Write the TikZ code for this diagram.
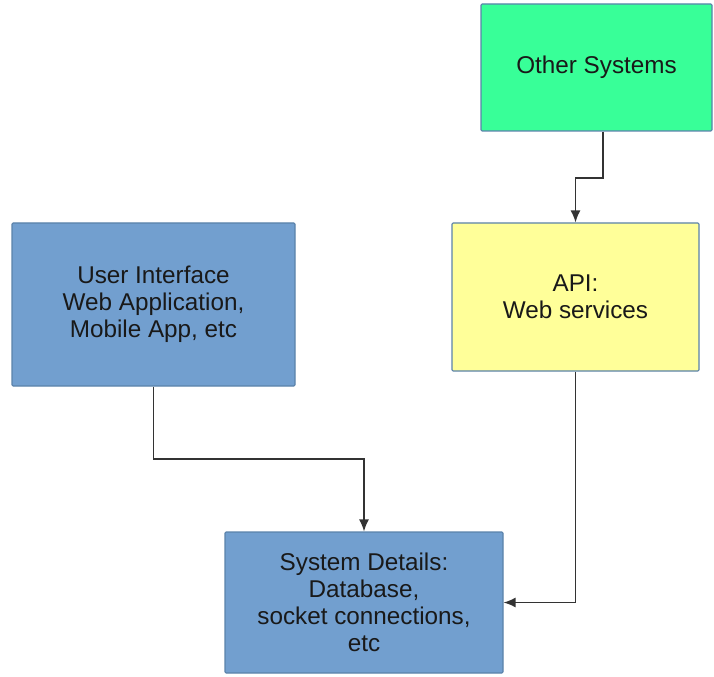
\documentclass[tikz,border=0pt]{standalone}
\usepackage{fontspec}
\setmainfont{Liberation Sans}
\usetikzlibrary{arrows.meta}
\definecolor{boxblue}{HTML}{729FCF}
\definecolor{boxgreen}{HTML}{38FF98}
\definecolor{boxyellow}{HTML}{FFFF99}
\definecolor{edge}{HTML}{5A82AA}
\tikzset{
  box/.style={draw=edge, line width=0.8pt, rounded corners=0.8pt, inner sep=0pt, align=center,
    font=\fontsize{18.2}{20.4}\selectfont, text=black!90},
  arr/.style={draw=black!80, line width=1.2pt, -{Latex[length=9pt,width=7.5pt]}},
  link/.style={draw=black!80, line width=1.2pt}
}
\begin{document}
\begin{tikzpicture}[x=0.75pt,y=-0.75pt]
\useasboundingbox (0,0) rectangle (714,677);
\node[box, fill=boxgreen, minimum width=231*0.75pt, minimum height=127*0.75pt] (os) at (596.5,67.5) {Other Systems};
\node[box, fill=boxyellow, minimum width=247*0.75pt, minimum height=148*0.75pt] (api) at (575.5,297) {API:\\Web services};
\node[box, fill=boxblue, minimum width=283*0.75pt, minimum height=163*0.75pt] (ui) at (153.5,304.5) {User Interface\\Web Application,\\ Mobile App, etc};
\node[box, fill=boxblue, minimum width=278*0.75pt, minimum height=141*0.75pt] (sd) at (364,602.5) {System Details:\\Database,\\socket connections,\\etc};
\coordinate (c1) at (603,178);
\coordinate (c2) at (364,459);
\draw[arr] (c1 |- os.south) -- (c1) -| (api.north);
\draw[arr] (ui.south) |- (c2) -- (sd.north);
\draw[arr] (api.south) |- (sd.east);
\end{tikzpicture}
\end{document}
